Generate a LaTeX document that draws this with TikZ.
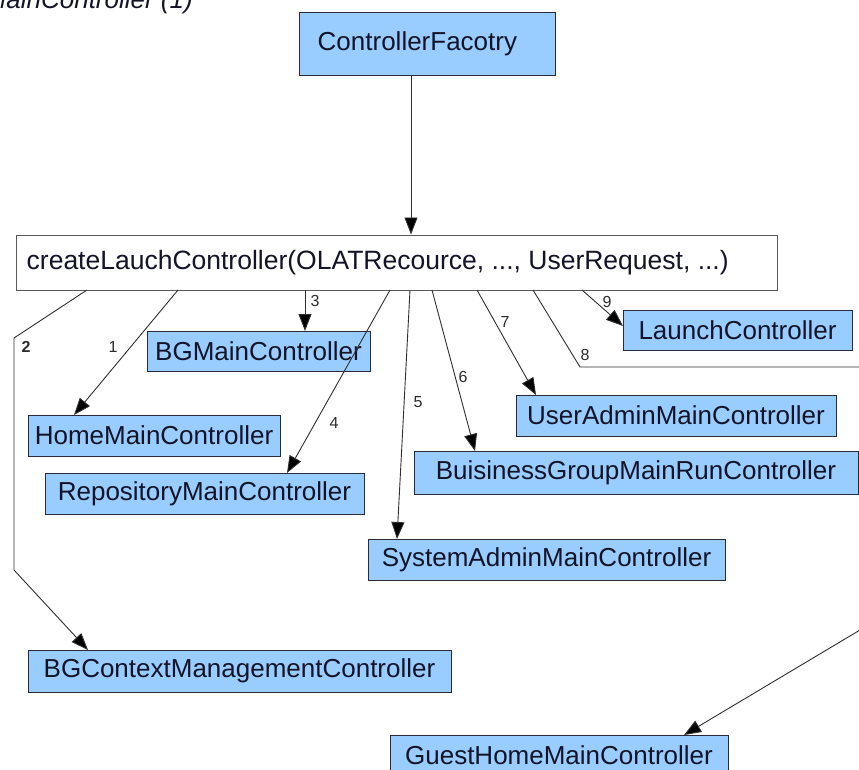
\documentclass[tikz,border=0pt]{standalone}
\usepackage{fontspec}
\setmainfont{Liberation Sans}
\usetikzlibrary{arrows.meta}
\definecolor{boxblue}{HTML}{99CCFF}
\definecolor{boxline}{HTML}{2A2A3A}
\definecolor{edgec}{HTML}{303030}
\definecolor{txtc}{HTML}{141428}
\tikzset{
  cls/.style={draw=boxline, line width=1pt, fill=boxblue, text=txtc, inner sep=0pt,
    font=\fontsize{26}{28}\selectfont},
  call/.style={draw=gray!70!black, line width=1pt, fill=white, text=txtc, inner sep=0pt,
    font=\fontsize{26.5}{28}\selectfont},
  conn/.style={draw=edgec, line width=0.9pt, -{Triangle[length=17pt,width=13pt,fill=black]}},
  plainconn/.style={draw=edgec, line width=0.9pt},
  lbl/.style={text=edgec!90!black, font=\fontsize{16}{18}\selectfont, inner sep=0pt},
}
\begin{document}
\begin{tikzpicture}[x=1pt,y=-1pt]
\useasboundingbox (0,0) rectangle (859,769);
\node[anchor=base east, text=txtc, font=\fontsize{26}{28}\selectfont\itshape, inner sep=0pt] (cap) at (193,8) {MainController (1)};

\node[cls, minimum width=256pt, minimum height=63pt] (fac) at (427,43.5) {};
\node[anchor=west, text=txtc, font=\fontsize{26}{28}\selectfont, inner sep=0pt] (factxt) at ([xshift=19pt]fac.west) {ControllerFacotry};
\node[call, minimum width=761pt, minimum height=55pt] (cre) at (396.5,262.5) {};
\node[anchor=west, text=txtc, font=\fontsize{26.5}{28}\selectfont, inner sep=0pt] (cretxt) at ([xshift=11pt]cre.west) {createLauchController(OLATRecource, ..., UserRequest, ...)};

\node[cls, minimum width=223pt, minimum height=40pt] (bgm) at (258.5,351) {BGMainController};
\node[cls, minimum width=229pt, minimum height=40pt] (lau) at (737.5,330) {LaunchController};
\node[cls, minimum width=252pt, minimum height=41pt] (home) at (154,435.5) {HomeMainController};
\node[cls, minimum width=320pt, minimum height=41pt] (uadm) at (676,415.5) {UserAdminMainController};
\node[cls, minimum width=319pt, minimum height=41pt] (repo) at (204.5,493.5) {RepositoryMainController};
\node[cls, minimum width=444pt, minimum height=43pt] (bgr) at (636,472.5) {BuisinessGroupMainRunController};
\node[cls, minimum width=357pt, minimum height=41pt] (sys) at (546.5,559.5) {SystemAdminMainController};
\node[cls, minimum width=423pt, minimum height=42pt] (bgc) at (239.5,671) {BGContextManagementController};
\node[cls, minimum width=338pt, minimum height=41pt] (guest) at (559,755.5) {GuestHomeMainController};

% connectors
\draw[conn] (fac.south -| 411,0) -- (cre.north -| 411,0);
\coordinate (s1) at (178,290); \coordinate (t1) at (74,415);
\draw[conn] (s1) -- (t1);
\coordinate (s2) at (87,290); \coordinate (c2a) at (14,338); \coordinate (c2b) at (14,570); \coordinate (t2) at (88,650);
\draw[conn] (s2) -- (c2a) -- (c2b) -- (t2);
\coordinate (s3) at (305,290); \coordinate (t3) at (305,331);
\draw[conn] (s3) -- (t3);
\coordinate (s4) at (390,290); \coordinate (t4) at (287,473);
\draw[conn] (s4) -- (t4);
\coordinate (s5) at (410,290); \coordinate (t5) at (397,539);
\draw[conn] (s5) -- (t5);
\coordinate (s6) at (432,290); \coordinate (t6) at (475,451);
\draw[conn] (s6) -- (t6);
\coordinate (s7) at (477,290); \coordinate (t7) at (536,395);
\draw[conn] (s7) -- (t7);
\coordinate (s8) at (533,290); \coordinate (c8) at (580,367); \coordinate (e8) at (860,367);
\draw[plainconn] (s8) -- (c8) -- (e8);
\coordinate (s9) at (582,290); \coordinate (t9) at (623,326);
\draw[conn] (s9) -- (t9);
\coordinate (sg) at (860,630); \coordinate (tg) at (684,735);
\draw[conn] (sg) -- (tg);

% labels
\node[lbl] (l1) at (113,347) {1};
\node[lbl, font=\fontsize{16}{18}\selectfont\bfseries] (l2) at (26,347) {2};
\node[lbl] (l3) at (315,301) {3};
\node[lbl] (l4) at (334,423) {4};
\node[lbl] (l5) at (418,402) {5};
\node[lbl] (l6) at (463,377) {6};
\node[lbl] (l7) at (505,322) {7};
\node[lbl] (l8) at (585,355) {8};
\node[lbl] (l9) at (607,302) {9};
\end{tikzpicture}
\end{document}
